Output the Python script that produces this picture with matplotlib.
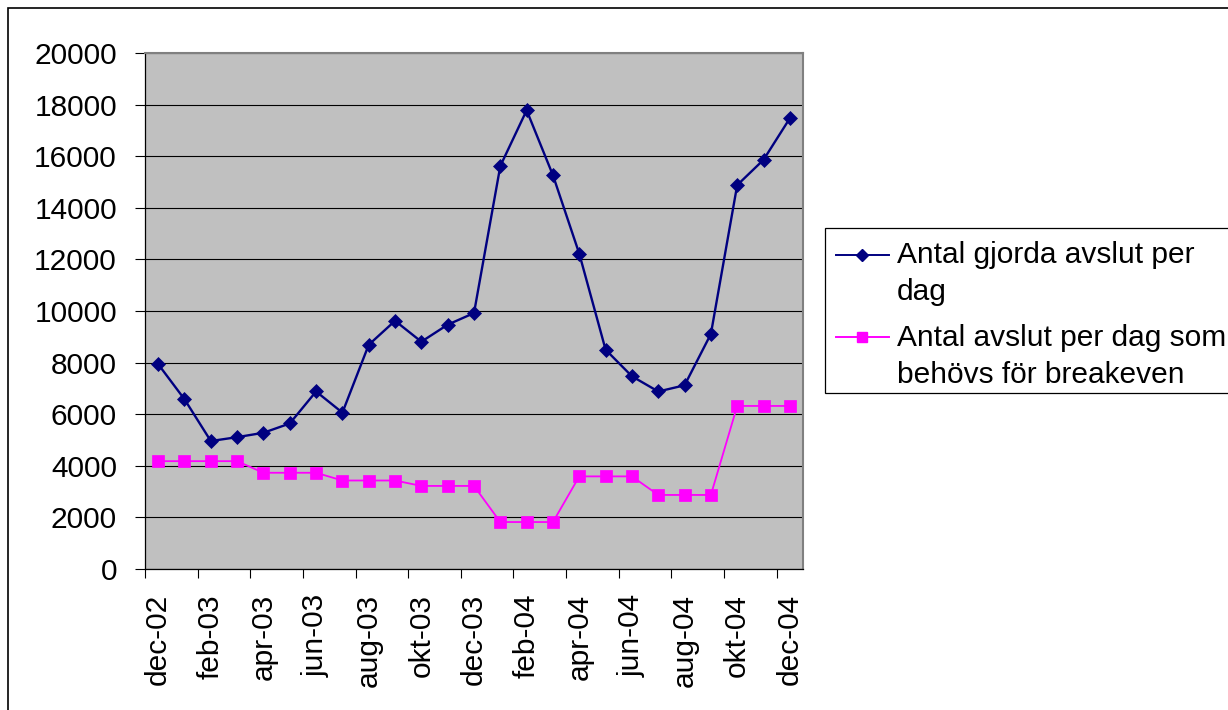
import matplotlib
matplotlib.use("Agg")
import matplotlib.pyplot as plt
from matplotlib.lines import Line2D
from matplotlib.patches import Rectangle

plt.rcParams['font.family'] = ['Liberation Sans', 'DejaVu Sans']

# Data
months = ['dec-02', 'jan-03', 'feb-03', 'mar-03', 'apr-03', 'maj-03', 'jun-03',
          'jul-03', 'aug-03', 'sep-03', 'okt-03', 'nov-03', 'dec-03', 'jan-04',
          'feb-04', 'mar-04', 'apr-04', 'maj-04', 'jun-04', 'jul-04', 'aug-04',
          'sep-04', 'okt-04', 'nov-04', 'dec-04']
avslut = [7940, 6580, 4960, 5110, 5280, 5640, 6880, 6060, 8690, 9620, 8810,
          9470, 9920, 15620, 17780, 15260, 12220, 8500, 7470, 6880, 7120, 9110,
          14880, 15860, 17470]
breakeven = [4180, 4180, 4180, 4180, 3730, 3730, 3730, 3430, 3430, 3430, 3220,
             3220, 3220, 1820, 1820, 1820, 3590, 3590, 3590, 2870, 2870, 2870,
             6320, 6320, 6320]
labels = ['Antal gjorda avslut per\ndag', 'Antal avslut per dag som\nbehövs för breakeven']
yticks = [0, 2000, 4000, 6000, 8000, 10000, 12000, 14000, 16000, 18000, 20000]

W, H = 1228, 710
fig = plt.figure(figsize=(W / 100, H / 100), dpi=100)
fig.patch.set_facecolor('white')

# plot area in pixels: x 145..803, y 53..569
ax = fig.add_axes([145 / W, 1 - 569 / H, (803 - 145) / W, (569 - 53) / H])
ax.set_facecolor('#c0c0c0')

x = list(range(len(months)))
blue = '#000080'
pink = '#ff00ff'
ax.plot(x, breakeven, color=pink, lw=1.3, marker='s', ms=8.4,
        mfc=pink, mec=pink, mew=0.5, zorder=3)
ax.plot(x, avslut, color=blue, lw=1.7, marker='D', ms=7.0,
        mfc=blue, mec=blue, mew=0.5, zorder=4)

ax.set_xlim(-0.5, len(months) - 0.5)
ax.set_ylim(0, 20000)
ax.set_yticks(yticks)
ax.set_yticklabels([str(v) for v in yticks])
ax.yaxis.grid(True, color='black', lw=0.8)
ax.set_axisbelow(True)

# ticks between categories, labels on every second category
ax.set_xticks([i - 0.5 for i in range(0, len(months), 2)])
ax.set_xticklabels([])
ax.set_xticks(x[::2], minor=True)
ax.set_xticklabels(months[::2], minor=True, rotation=90, fontsize=21.5)
ax.tick_params(axis='x', which='major', direction='out', length=6.5, width=0.8)
ax.tick_params(axis='x', which='minor', length=0, pad=18)
ax.tick_params(axis='y', direction='out', length=7.2, width=0.8,
               labelsize=21.5, pad=13)

for s in ['left', 'bottom']:
    ax.spines[s].set_color('black')
    ax.spines[s].set_linewidth(0.9)
for s in ['top', 'right']:
    ax.spines[s].set_color('#808080')
    ax.spines[s].set_linewidth(1.5)


def fx(px):
    return px / W


def fy(py):
    return 1 - py / H


# outer chart frame
fig.add_artist(Rectangle((fx(8), fy(730)), fx(1250) - fx(8), fy(8) - fy(730),
                         transform=fig.transFigure, fill=False,
                         edgecolor='black', lw=1.2))

# legend box
fig.add_artist(Rectangle((fx(825), fy(393)), fx(1240) - fx(825), fy(228) - fy(393),
                         transform=fig.transFigure, facecolor='white',
                         edgecolor='black', lw=0.9))
legend_items = [(blue, 'D', 6.0, 255, 263), (pink, 's', 7.0, 337, 346)]
for (col, mk, ms, ly, by), lab in zip(legend_items, labels):
    fig.add_artist(Line2D([fx(836), fx(889)], [fy(ly), fy(ly)],
                          transform=fig.transFigure, color=col, lw=1.4))
    fig.add_artist(Line2D([fx(862)], [fy(ly)], transform=fig.transFigure,
                          color=col, marker=mk, ms=ms, mfc=col, mec=col))
    for k, line in enumerate(lab.split('\n')):
        fig.text(fx(897), fy(by + 37 * k), line, fontsize=21.5,
                 va='baseline', ha='left')

fig.savefig('out.png', dpi=100)
